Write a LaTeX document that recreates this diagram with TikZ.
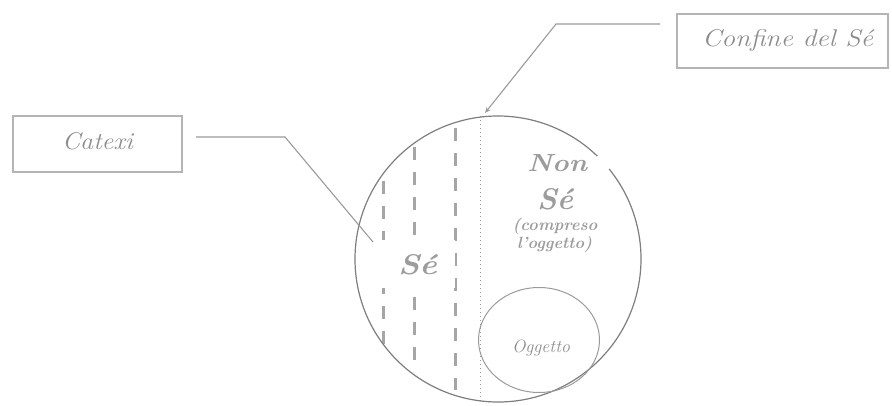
\documentclass[tikz,border=0pt]{standalone}
\usepackage{fontspec}
\usetikzlibrary{arrows.meta,calc,shapes.geometric}
\definecolor{boxgray}{HTML}{B4B4B4}
\definecolor{linegray}{HTML}{9A9A9A}
\definecolor{dashgray}{HTML}{A6A6A6}
\definecolor{circgray}{HTML}{7E7E7E}
\definecolor{textgray}{HTML}{8C8C8C}
\definecolor{chalkgray}{HTML}{9C9C9C}
% #1 width, #2 height above baseline (or !), #3 text
\newcommand{\handfit}[3]{\resizebox{#1}{#2}{\fontsize{20}{20}\selectfont\itshape\addfontfeatures{LetterSpace=12}#3}}
\newcommand{\chalkfit}[3]{\resizebox{#1}{#2}{\fontsize{20}{20}\selectfont\bfseries\itshape\addfontfeatures{LetterSpace=6}#3}}
\tikzset{
  callbox/.style={draw=boxgray, line width=1.2pt, inner sep=0pt, outer sep=0pt},
  callline/.style={draw=linegray, line width=1.1pt},
  dashbar/.style={draw=dashgray, line width=3pt, dash pattern=on 13pt off 12pt},
  dotline/.style={draw=linegray, line width=0.9pt, dash pattern=on 1pt off 3pt},
  bigcirc/.style={draw=circgray, line width=1.2pt},
  handtext/.style={text=textgray, inner sep=0pt, anchor=base},
  chalktext/.style={text=chalkgray, inner sep=0pt, anchor=base},
}
\begin{document}
\begin{tikzpicture}[x=1pt,y=-1pt]
\useasboundingbox (0,0) rectangle (892,406);

% callout boxes
\node[callbox, minimum width=169pt, minimum height=56pt] (catexi) at (97.5,144) {};
\node[handtext] (catexilbl) at (97.5,150) {\handfit{71pt}{17pt}{Catexi}};
\node[callbox, minimum width=211pt, minimum height=54pt] (confine) at (782.5,41) {};
\node[handtext] (confinelbl) at (787.5,47) {\handfit{171pt}{17pt}{Confine del Sé}};

% dashed bars
\coordinate (d1t) at (383,181); \coordinate (d1b) at (383,345);
\coordinate (d2t) at (414,147); \coordinate (d2b) at (414,372);
\coordinate (d3t) at (455,128); \coordinate (d3b) at (455,390);
\draw[dashbar] (d1t) -- (d1b);
\draw[dashbar] (d2t) -- (d2b);
\draw[dashbar] (d3t) -- (d3b);

% white patch with "Se"
\node[fill=white, minimum width=83pt, minimum height=48pt, inner sep=0pt, outer sep=0pt] (sepatch) at (413.5,264) {};
\node[chalktext] (se) at (417.5,275) {\chalkfit{39pt}{20pt}{Sé}};

% dotted boundary
\coordinate (dt) at (480,116); \coordinate (db) at (480,403);
\draw[dotline] (dt) -- (db);

% big circle (with a small gap at upper right)
\node[circle, minimum size=286pt, inner sep=0pt, outer sep=0pt] (self) at (498,259) {};
\draw[bigcirc] (self.39) arc[start angle=-39, end angle=314, radius=143];

% object
\node[ellipse, draw=linegray, line width=1pt, minimum width=121pt, minimum height=105pt, inner sep=0pt] (obj) at (539,340) {};
\node[handtext] (objlbl) at (541,352) {\handfit{58pt}{!}{Oggetto}};

% Non Se text
\node[chalktext] (non) at (557,172) {\chalkfit{60pt}{17pt}{Non}};
\node[chalktext] (nse) at (555,210) {\chalkfit{36pt}{21pt}{Sé}};
\node[chalktext] (comp) at (555,231) {\chalkfit{85pt}{!}{(compreso}};
\node[chalktext] (ogg) at (554.5,249) {\chalkfit{75pt}{!}{l'oggetto)}};

% connectors
\coordinate (catend) at (373,242);
\draw[callline] ($(catexi.east)+(14,-7)$) -- (285,137) -- (catend);
\coordinate (confend) at (485,113);
\draw[callline, -{Stealth[length=6pt,width=5pt]}] ($(confine.west)+(-17,-17)$) -- (556,24) -- (confend);
\end{tikzpicture}
\end{document}
